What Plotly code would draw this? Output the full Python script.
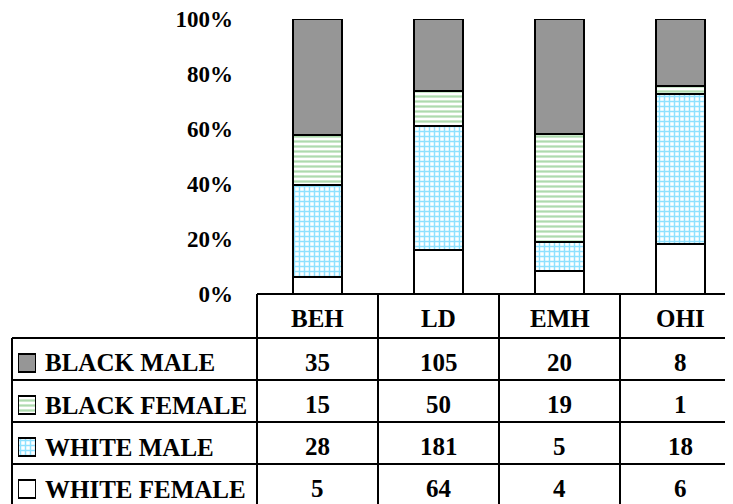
import plotly.graph_objects as go

# ---------------- data ----------------
categories = ["BEH", "LD", "EMH", "OHI"]
white_female = [5, 64, 4, 6]
white_male = [28, 181, 5, 18]
black_female = [15, 50, 19, 1]
black_male = [35, 105, 20, 8]
y_ticks = [0, 20, 40, 60, 80, 100]
y_tick_labels = ["0%", "20%", "40%", "60%", "80%", "100%"]

W, H = 733, 504
OFF = 8  # page offset of the figure inside the browser window
FONT = "Liberation Serif, Times New Roman, serif"

totals = [a + b + c + d for a, b, c, d in zip(white_female, white_male, black_female, black_male)]
def pct(vals):
    return [v / t * 100 for v, t in zip(vals, totals)]

series = [
    ("WHITE FEMALE", white_female, dict(color="white")),
    ("WHITE MALE", white_male, dict(color="white", pattern=dict(shape="+", fgcolor="#1EC4FF", bgcolor="white",
                                                                  size=5, solidity=0.5, fillmode="overlay"))),
    ("BLACK FEMALE", black_female, dict(color="white", pattern=dict(shape="-", fgcolor="#5DB55D", bgcolor="white",
                                                                      size=5, solidity=0.45, fillmode="overlay"))),
    ("BLACK MALE", black_male, dict(color="#969696")),
]

# convert window pixel positions to paper coordinates
def px(x):
    return (x - OFF) / W
def py(y):
    return (H - (y - OFF)) / H

plot_left, plot_top, plot_bottom = 257, 19, 294
col_w = 121
x_max = -0.5 + (W + OFF - plot_left) / col_w

fig = go.Figure()
for name, vals, mk in series:
    fig.add_trace(go.Bar(
        x=categories, y=pct(vals), name=name, width=0.4,
        marker=dict(**mk, line=dict(color="black", width=2)),
        xaxis="x", yaxis="y", showlegend=False, hoverinfo="skip",
    ))

rows = list(reversed(series))
row_top = 338
row_h = 42

for i, (name, vals, mk) in enumerate(rows):
    fig.add_trace(go.Bar(
        x=[1], y=[i], orientation="h", width=0.43,
        marker=dict(**mk, line=dict(color="black", width=2)),
        xaxis="x2", yaxis="y2", showlegend=False, hoverinfo="skip",
    ))

shapes = []
line = dict(color="black", width=2)
shapes.append(dict(type="line", xref="paper", yref="paper", x0=px(plot_left), x1=px(W + 20),
                   y0=py(plot_bottom), y1=py(plot_bottom), line=line))
for k in range(4):
    yy = row_top + k * row_h
    shapes.append(dict(type="line", xref="paper", yref="paper", x0=px(12), x1=px(W + 20),
                       y0=py(yy), y1=py(yy), line=line))
shapes.append(dict(type="line", xref="paper", yref="paper", x0=px(12), x1=px(12),
                   y0=py(row_top), y1=py(H + 20), line=line))
for k in range(4):
    xx = plot_left + k * col_w
    shapes.append(dict(type="line", xref="paper", yref="paper", x0=px(xx), x1=px(xx),
                       y0=py(plot_bottom), y1=py(H + 20), line=line))

annotations = []
tfont = dict(family=FONT, size=25, color="black", weight="bold")
for c in categories:
    annotations.append(dict(x=c, xref="x", y=py(318), yref="paper", text=c, showarrow=False,
                            font=tfont, xanchor="center", yanchor="middle"))
for i, (name, vals, mk) in enumerate(rows):
    yc = row_top + row_h * i + row_h / 2 + 3
    annotations.append(dict(x=px(43), xref="paper", y=py(yc + 1), yref="paper", text=name, showarrow=False,
                            font=tfont, xanchor="left", yanchor="middle"))
    for c, v in zip(categories, vals):
        annotations.append(dict(x=c, xref="x", y=py(yc), yref="paper", text=str(v), showarrow=False,
                                font=tfont, xanchor="center", yanchor="middle"))

y2_top_px, y2_bot_px = row_top, H + OFF
key_c = row_top + row_h / 2 + 4
r_top = (y2_top_px - key_c) / row_h
r_bot = (y2_bot_px - key_c) / row_h

fig.update_layout(
    width=W, height=H, autosize=False,
    margin=dict(l=0, r=0, t=0, b=0, pad=0, autoexpand=False),
    paper_bgcolor="white", plot_bgcolor="white",
    barmode="stack", bargap=0,
    xaxis=dict(domain=[px(plot_left), 1.0], range=[-0.5, x_max], showticklabels=False, ticks="",
               showgrid=False, zeroline=False, showline=False, fixedrange=True, automargin=False),
    yaxis=dict(domain=[py(plot_bottom), py(plot_top)], range=[0, 100], tickmode="array",
               tickvals=y_ticks, ticktext=y_tick_labels,
               showgrid=False, zeroline=False, showline=False, ticks="",
               tickfont=dict(family=FONT, size=23, color="black", weight="bold"),
               ticklabelstandoff=23, ticklabeloverflow="allow", fixedrange=True, automargin=False),
    xaxis2=dict(domain=[px(18), px(36)], range=[0, 1], visible=False, anchor="y2", fixedrange=True,
                automargin=False),
    yaxis2=dict(domain=[0, py(y2_top_px)], range=[r_bot, r_top], visible=False, anchor="x2",
                fixedrange=True, automargin=False),
    shapes=shapes,
    annotations=annotations,
)

fig.write_html("out.html")
